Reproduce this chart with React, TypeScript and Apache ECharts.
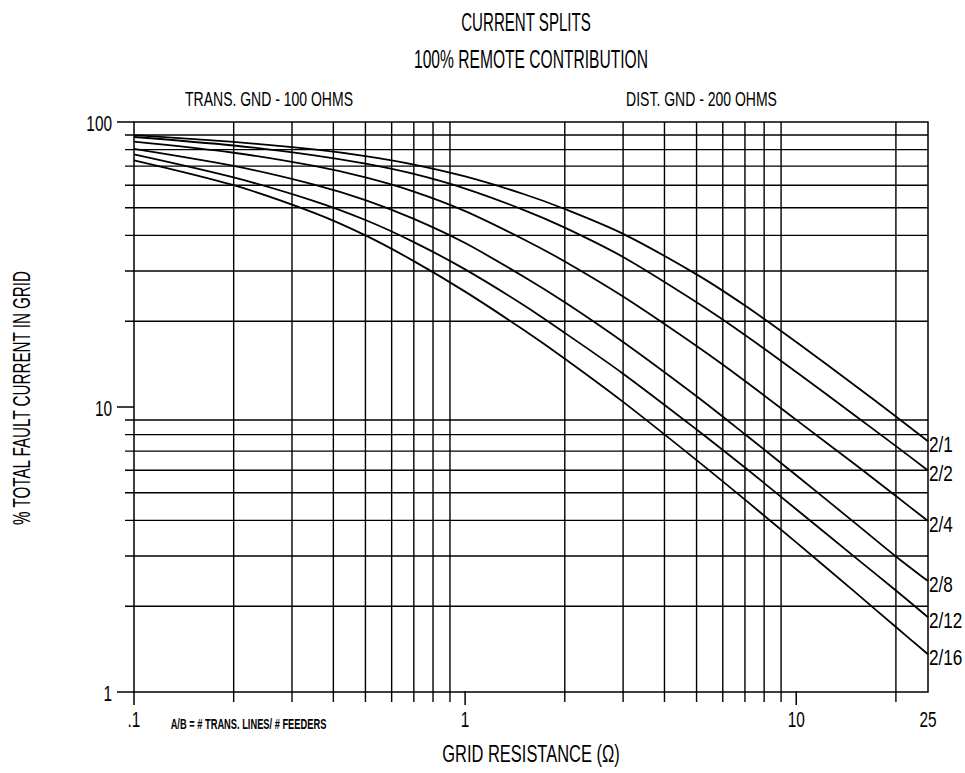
import React, { useEffect, useRef } from 'react';
import * as echarts from 'echarts';

// Grid resistance (ohm) sample points
const xValues = [0.1, 0.2, 0.35, 0.5, 0.7, 1, 1.5, 2, 3, 5, 7, 10, 15, 20, 25];
const seriesNames = ['2/1', '2/2', '2/4', '2/8', '2/12', '2/16'];
// % total fault current in grid
const s2_1 = [90, 85.1, 80.1, 75.9, 70.9, 64.4, 55.9, 49.5, 40.5, 29.2, 22.7, 16.9, 11.93, 9.26, 7.58];
const s2_2 = [88.6, 82.7, 76.4, 71.4, 65.7, 58.4, 49.2, 42.6, 33.6, 23.3, 17.9, 13.27, 9.36, 7.29, 5.99];
const s2_4 = [85.3, 78, 70.1, 63.9, 57, 48.7, 38.8, 32.4, 24.4, 16.36, 12.34, 9.01, 6.31, 4.87, 3.98];
const s2_8 = [80.5, 70.1, 60.3, 53.2, 45.7, 37.6, 28.7, 23.3, 16.9, 10.9, 8.02, 5.76, 3.93, 2.99, 2.45];
const s2_12 = [77, 63.9, 52.8, 45.3, 37.9, 30.4, 22.8, 18.2, 13.09, 8.34, 6.13, 4.38, 2.98, 2.27, 1.83];
const s2_16 = [73.4, 60, 48, 40, 32.5, 25.4, 18.66, 14.77, 10.42, 6.51, 4.73, 3.35, 2.25, 1.69, 1.357];
const seriesValues = [s2_1, s2_2, s2_4, s2_8, s2_12, s2_16];

const xMin = 0.1;
const xMax = 25;
const yMin = 1;
const yMax = 100;
const xMinorGrid = [0.2, 0.3, 0.4, 0.5, 0.6, 0.7, 0.8, 0.9, 2, 3, 4, 5, 6, 7, 8, 9, 20];
const yMinorGrid = [2, 3, 4, 5, 6, 7, 8, 9, 20, 30, 40, 50, 60, 70, 80, 90];
const xMajorTicks = [0.1, 1, 10];
const yMajorTicks = [1, 10, 100];
const xTickValues = [0.1, 1, 10, 25];
const xTickLabels = ['.1', '1', '10', '25'];
const yTickValues = [1, 10, 100];
const yTickLabels = ['1', '10', '100'];

const FONT = "'Liberation Sans', Arial, sans-serif";
const INK = '#000';

function txt(text: string, x: number, y: number, fontSize: number, scaleX: number, extra: any = {}) {
  return {
    type: 'text',
    x,
    y,
    scaleX,
    rotation: extra.rotation || 0,
    silent: true,
    style: {
      text,
      fontSize,
      fontFamily: FONT,
      fontWeight: extra.fontWeight || 'normal',
      fill: INK,
      align: 'center',
      verticalAlign: 'middle',
    },
  };
}

export default function App() {
  const ref = useRef<HTMLDivElement>(null);

  useEffect(() => {
    if (!ref.current) return;
    const chart = echarts.init(ref.current, undefined, { renderer: 'svg' });

    const lineSeries = seriesNames.map((name, i) => ({
      name,
      type: 'line',
      data: xValues.map((x, j) => [x, seriesValues[i][j]]),
      smooth: 0.3,
      symbol: 'none',
      lineStyle: { color: INK, width: 1.8 },
      z: 5,
      silent: true,
    }));

    const option: any = {
      animation: false,
      backgroundColor: '#fff',
      grid: {
        show: true,
        left: 134,
        right: 37,
        top: 122,
        bottom: 81,
        borderColor: INK,
        borderWidth: 1.5,
        backgroundColor: 'transparent',
      },
      xAxis: {
        type: 'log',
        logBase: 10,
        min: xMin,
        max: xMax,
        axisLine: { show: false },
        axisTick: { show: false },
        axisLabel: { show: false },
        splitLine: { show: false },
      },
      yAxis: {
        type: 'log',
        logBase: 10,
        min: yMin,
        max: yMax,
        axisLine: { show: false },
        axisTick: { show: false },
        axisLabel: { show: false },
        splitLine: { show: false },
      },
      series: [
        {
          type: 'custom',
          name: 'xgrid',
          silent: true,
          clip: false,
          z: 1,
          data: xMinorGrid.map((v) => [v, yMin]),
          renderItem: (params: any, api: any) => {
            const v = api.value(0);
            const b = api.coord([v, yMin]);
            const t = api.coord([v, yMax]);
            return {
              type: 'line',
              shape: { x1: b[0], y1: b[1] + 10, x2: t[0], y2: t[1] },
              style: { stroke: INK, lineWidth: 1.4 },
            };
          },
        },
        {
          type: 'custom',
          name: 'ygrid',
          silent: true,
          clip: false,
          z: 1,
          data: yMinorGrid.map((v) => [xMin, v]),
          renderItem: (params: any, api: any) => {
            const v = api.value(1);
            const l = api.coord([xMin, v]);
            const r = api.coord([xMax, v]);
            return {
              type: 'line',
              shape: { x1: l[0] - 9, y1: l[1], x2: r[0], y2: r[1] },
              style: { stroke: INK, lineWidth: 1.4 },
            };
          },
        },
        {
          type: 'custom',
          name: 'xticks',
          silent: true,
          clip: false,
          z: 2,
          data: xMajorTicks.map((v) => [v, yMin]),
          renderItem: (params: any, api: any) => {
            const b = api.coord([api.value(0), yMin]);
            return {
              type: 'line',
              shape: { x1: b[0], y1: b[1] - 1, x2: b[0], y2: b[1] + 13 },
              style: { stroke: INK, lineWidth: 1.5 },
            };
          },
        },
        {
          type: 'custom',
          name: 'yticks',
          silent: true,
          clip: false,
          z: 2,
          data: yMajorTicks.map((v) => [xMin, v]),
          renderItem: (params: any, api: any) => {
            const l = api.coord([xMin, api.value(1)]);
            return {
              type: 'line',
              shape: { x1: l[0] - 17, y1: l[1], x2: l[0], y2: l[1] },
              style: { stroke: INK, lineWidth: 1.5 },
            };
          },
        },
        {
          type: 'custom',
          name: 'xlabels',
          silent: true,
          clip: false,
          z: 3,
          data: xTickValues.map((v) => [v, yMin]),
          renderItem: (params: any, api: any) => {
            const p = api.coord([api.value(0), yMin]);
            return txt(xTickLabels[params.dataIndex], p[0], p[1] + 27, 22, 0.7);
          },
        },
        {
          type: 'custom',
          name: 'ylabels',
          silent: true,
          clip: false,
          z: 3,
          data: yTickValues.map((v) => [xMin, v]),
          renderItem: (params: any, api: any) => {
            const p = api.coord([xMin, api.value(1)]);
            const el: any = txt(yTickLabels[params.dataIndex], p[0] - 22, p[1] + 1, 22, 0.7);
            el.style.align = 'right';
            return el;
          },
        },
        {
          type: 'custom',
          name: 'curveLabels',
          silent: true,
          clip: false,
          z: 3,
          data: seriesValues.map((vals) => [xMax, vals[vals.length - 1]]),
          renderItem: (params: any, api: any) => {
            const p = api.coord([api.value(0), api.value(1)]);
            const el: any = txt(seriesNames[params.dataIndex], p[0] + 1, p[1] + 3, 22, 0.78);
            el.style.align = 'left';
            return el;
          },
        },
        ...lineSeries,
      ],
      graphic: [
        txt('CURRENT SPLITS', 526, 22, 26, 0.58),
        txt('100% REMOTE CONTRIBUTION', 531, 60, 26, 0.6),
        txt('TRANS. GND - 100 OHMS', 269, 99, 21, 0.667),
        txt('DIST. GND - 200 OHMS', 701.5, 99, 21, 0.667),
        txt('GRID RESISTANCE (Ω)', 531, 753, 24, 0.686),
        txt('% TOTAL FAULT CURRENT IN GRID', 22, 398, 23.5, 0.646, { rotation: Math.PI / 2 }),
        txt('A/B = # TRANS. LINES/ # FEEDERS', 248.5, 724, 15, 0.62, { fontWeight: 'bold' }),
      ],
    };

    chart.setOption(option);
    return () => {
      chart.dispose();
    };
  }, []);

  return (
    <div
      ref={ref}
      style={{ position: 'absolute', left: 0, top: 0, width: 965, height: 773, background: '#fff' }}
    />
  );
}
